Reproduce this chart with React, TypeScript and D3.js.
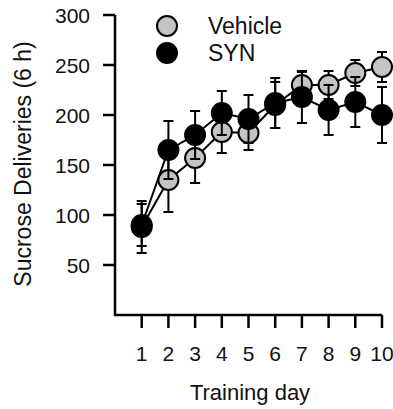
import React from 'react';
import * as d3 from 'd3';

const days = [1, 2, 3, 4, 5, 6, 7, 8, 9, 10];
const vehicleMean = [88, 135, 157, 183, 182, 210, 230, 230, 242, 248];
const vehicleErr = [26, 32, 25, 21, 17, 23, 13, 14, 13, 15];
const synMean = [90, 165, 180, 202, 196, 212, 218, 205, 213, 200];
const synErr = [21, 29, 24, 22, 24, 25, 26, 25, 25, 28];
const yTicks = [50, 100, 150, 200, 250, 300];

const series = [
  { name: 'Vehicle', mean: vehicleMean, err: vehicleErr, fill: '#c4c4c4' },
  { name: 'SYN', mean: synMean, err: synErr, fill: '#000000' },
];

const font = 'Arial, "Liberation Sans", Helvetica, sans-serif';

export default function App() {
  const width = 393;
  const height = 409;

  const x = d3.scaleLinear().domain([0, 10]).range([115, 382]);
  const y = d3.scaleLinear().domain([0, 300]).range([315, 15]);

  const line = d3.line<number>()
    .x((d, i) => x(days[i]))
    .y((d) => y(d));

  const r = 10;
  const cap = 5;

  return (
    <svg width={width} height={height} style={{ position: 'absolute', left: 0, top: 0 }}>
      {/* axes */}
      <g stroke="#000" strokeWidth={2.5} fill="none">
        <path d={`M${x(0)},${y(300)}V${y(0)}H${x(10)}`} />
        {yTicks.map((t) => (
          <line key={t} x1={x(0) - 12} x2={x(0)} y1={y(t)} y2={y(t)} />
        ))}
        {days.map((d) => (
          <line key={d} x1={x(d)} x2={x(d)} y1={y(0)} y2={y(0) + 13} />
        ))}
      </g>
      <g fontFamily={font} fontSize={21} fill="#111">
        {yTicks.map((t) => (
          <text key={t} x={x(0) - 25} y={y(t)} dy="0.36em" textAnchor="end">{t}</text>
        ))}
        {days.map((d) => (
          <text key={d} x={x(d)} y={361} textAnchor="middle">{d}</text>
        ))}
      </g>
      <text x={250} y={400} fontFamily={font} fontSize={22} textAnchor="middle" fill="#111">Training day</text>
      <text transform={`translate(31,164) rotate(-90)`} fontFamily={font} fontSize={23} textAnchor="middle" fill="#111">Sucrose Deliveries (6 h)</text>

      {/* data */}
      {series.map((s) => (
        <g key={s.name}>
          <path d={line(s.mean) || ''} fill="none" stroke="#000" strokeWidth={2} />
          <g stroke="#000" strokeWidth={2}>
            {s.mean.map((m, i) => (
              <g key={i}>
                <line x1={x(days[i])} x2={x(days[i])} y1={y(m - s.err[i])} y2={y(m + s.err[i])} />
                <line x1={x(days[i]) - cap} x2={x(days[i]) + cap} y1={y(m - s.err[i])} y2={y(m - s.err[i])} />
                <line x1={x(days[i]) - cap} x2={x(days[i]) + cap} y1={y(m + s.err[i])} y2={y(m + s.err[i])} />
              </g>
            ))}
          </g>
          {s.mean.map((m, i) => (
            <circle key={i} cx={x(days[i])} cy={y(m)} r={r} fill={s.fill} stroke="#000" strokeWidth={2} />
          ))}
        </g>
      ))}

      {/* legend */}
      {series.map((s, i) => (
        <g key={s.name} transform={`translate(167,${26 + i * 27})`}>
          <circle r={r} fill={s.fill} stroke="#000" strokeWidth={2} />
          <text x={41} y={0} dy="0.36em" fontFamily={font} fontSize={23} fill="#111">{s.name}</text>
        </g>
      ))}
    </svg>
  );
}
